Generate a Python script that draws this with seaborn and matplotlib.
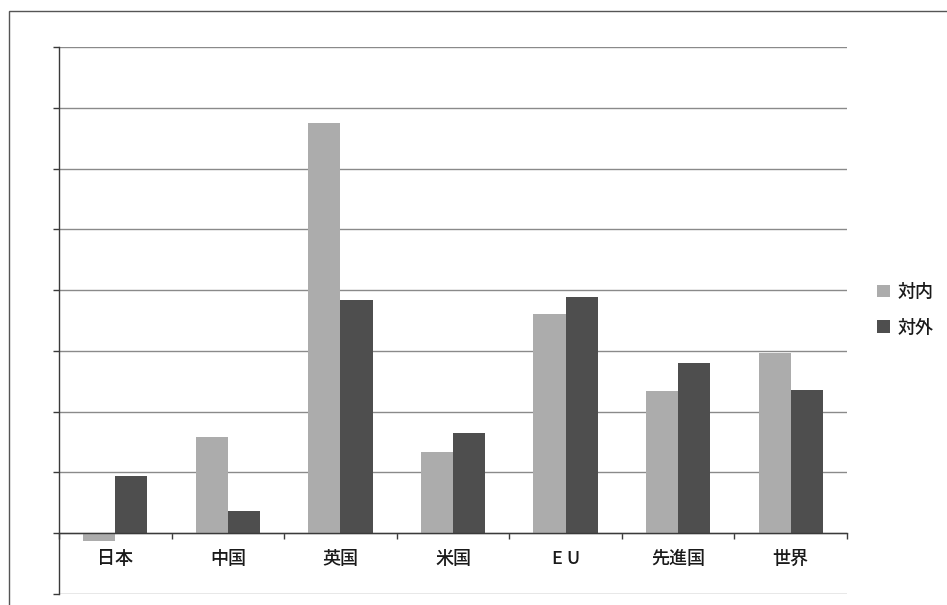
import matplotlib
matplotlib.use("Agg")
import matplotlib.pyplot as plt
from matplotlib.patches import Rectangle
import seaborn as sns
import pandas as pd

regions = ["日本", "中国", "英国", "米国", "E U", "先進国", "世界"]
inward = [-0.13, 1.58, 6.75, 1.33, 3.61, 2.34, 2.97]
outward = [0.94, 0.36, 3.84, 1.65, 3.89, 2.80, 2.36]
series_names = ["対内", "対外"]
colors = ["#acacac", "#4e4e4e"]

df = pd.DataFrame({
    "region": regions * 2,
    "value": inward + outward,
    "kind": [series_names[0]] * len(regions) + [series_names[1]] * len(regions),
})

sns.set_theme(style="white")
plt.rcParams["font.family"] = ["Noto Sans CJK JP", "DejaVu Sans"]

fig = plt.figure(figsize=(9.47, 6.05), dpi=100)
ax = fig.add_axes([59 / 947, 1 - 594 / 605, (847 - 59) / 947, (594 - 47) / 605])

sns.barplot(data=df, x="region", y="value", hue="kind", palette=colors,
            width=0.57, saturation=1, ax=ax, linewidth=0, legend=True)

ax.set_xlim(-0.5, len(regions) - 0.5)
ax.set_ylim(-1.004, 8.004)
ax.set_yticks(range(-1, 9))
ax.set_yticklabels([])
ax.set_xlabel("")
ax.set_ylabel("")
ax.yaxis.grid(True, color="#8a8a8a", linewidth=1.0)
ax.set_axisbelow(True)

for side in ("top", "right"):
    ax.spines[side].set_visible(False)
ax.spines["left"].set_color("#3a3a3a")
ax.spines["left"].set_linewidth(1.0)
ax.spines["left"].set_bounds(-1, 8)
ax.spines["bottom"].set_position(("data", 0))
ax.spines["bottom"].set_color("#3a3a3a")
ax.spines["bottom"].set_linewidth(1.0)

ax.tick_params(axis="y", which="major", left=True, length=4.5, width=1.0,
               color="#3a3a3a", direction="out")
ax.set_xticks([i - 0.5 for i in range(len(regions) + 1)], minor=True)
ax.tick_params(axis="x", which="minor", bottom=True, length=4.5, width=1.0,
               color="#3a3a3a", direction="out")
ax.tick_params(axis="x", which="major", length=0, pad=12, labelsize=13,
               labelcolor="#1a1a1a")
for lbl in ax.get_xticklabels():
    lbl.set_fontweight("medium")

handles, labels = ax.get_legend_handles_labels()
ax.get_legend().remove()
leg = fig.legend(handles, labels, loc="center left", bbox_to_anchor=(0.926, 0.4876),
                 frameon=False, handlelength=0.7, handleheight=0.7, handletextpad=0.45,
                 labelspacing=0.95, borderpad=0, borderaxespad=0, fontsize=13,
                 labelcolor="#1a1a1a")
for t in leg.get_texts():
    t.set_fontweight("medium")

# outer chart frame, cut off at the right and bottom edges
fig.patches.append(Rectangle((9 / 947, -0.1), 1.2, 1.1 - 11 / 605,
                             transform=fig.transFigure, fill=False,
                             edgecolor="#555555", linewidth=1.0))

fig.savefig("out.png", dpi=100)
